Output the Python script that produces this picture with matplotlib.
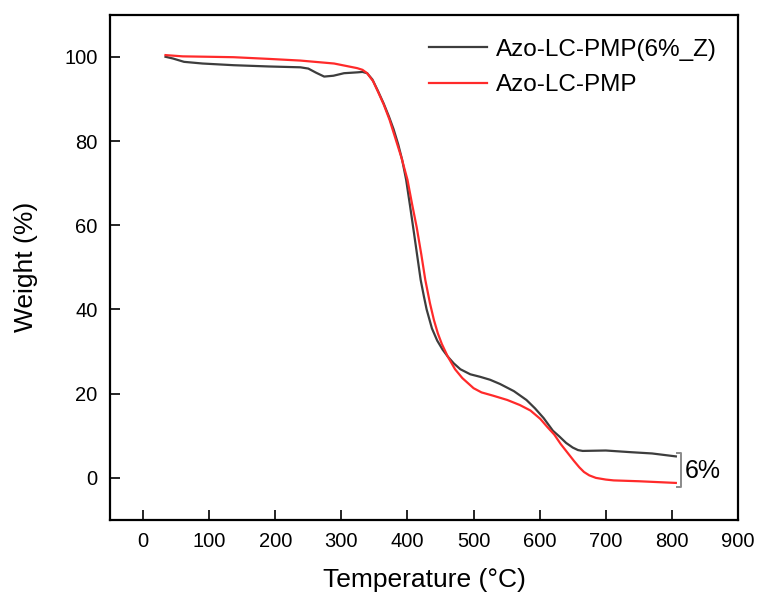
import matplotlib
matplotlib.use("Agg")
import matplotlib.pyplot as plt

plt.rcParams['font.family'] = ['Liberation Sans', 'DejaVu Sans']

# Azo-LC-PMP(6%_Z) (dark gray)
temp_z = [34, 45, 62, 90, 137, 190, 238, 250, 262, 274, 288, 304, 324, 332, 339,
          347, 355, 364, 372, 379, 386, 392, 398, 404, 410, 415, 420, 425, 429,
          437, 445, 453, 461, 470, 480, 495, 510, 525, 540, 561, 580, 593, 606,
          620, 630, 640, 650, 658, 665, 700, 738, 770, 806]
weight_z = [100.0, 99.6, 98.8, 98.4, 98.0, 97.7, 97.5, 97.2, 96.2, 95.3, 95.5, 96.1,
            96.3, 96.4, 96.1, 94.6, 92.0, 88.9, 85.8, 82.8, 79.2, 75.5, 70.8, 64.5,
            58.0, 52.5, 47.0, 43.0, 40.0, 35.5, 32.6, 30.5, 28.8, 27.2, 25.8, 24.6,
            24.0, 23.3, 22.3, 20.6, 18.5, 16.5, 14.2, 11.2, 9.8, 8.3, 7.2, 6.6,
            6.4, 6.5, 6.1, 5.8, 5.1]

# Azo-LC-PMP (red)
temp_p = [34, 60, 100, 137, 190, 238, 289, 324, 332, 339, 348, 356, 364, 373, 382,
          391, 400, 407, 414, 421, 427, 434, 440, 446, 452, 461, 472, 483, 500,
          512, 530, 551, 570, 586, 601, 612, 622, 632, 642, 652, 660, 667, 675,
          685, 700, 712, 750, 806]
weight_p = [100.4, 100.1, 100.0, 99.9, 99.5, 99.1, 98.4, 97.3, 96.9, 96.1, 94.2,
            91.5, 88.7, 85.0, 80.5, 76.0, 70.8, 65.0, 59.5, 53.0, 47.0, 41.5, 37.5,
            34.3, 31.8, 28.8, 25.8, 23.7, 21.3, 20.3, 19.5, 18.5, 17.3, 16.0, 14.0,
            12.0, 10.3, 8.0, 6.0, 4.0, 2.5, 1.4, 0.6, 0.0, -0.4, -0.6, -0.8, -1.2]

labels = ["Azo-LC-PMP(6%_Z)", "Azo-LC-PMP"]
xticks = [0, 100, 200, 300, 400, 500, 600, 700, 800, 900]
yticks = [0, 20, 40, 60, 80, 100]

fig = plt.figure(figsize=(7.58, 5.94), dpi=100)
ax = fig.add_axes([0.1451, 0.1246, 0.8285, 0.8507])

ax.plot(temp_z, weight_z, color='#3d3d3d', lw=1.6, label=labels[0])
ax.plot(temp_p, weight_p, color='#ff2a2a', lw=1.6, label=labels[1])

ax.set_xlim(-50, 900)
ax.set_ylim(-10, 110)
ax.set_xticks(xticks)
ax.set_yticks(yticks)
ax.tick_params(direction='in', length=7, width=1.2, labelsize=14.5, pad=9)
for s in ax.spines.values():
    s.set_linewidth(1.6)

ax.set_xlabel('Temperature (°C)', fontsize=19, labelpad=12)
ax.set_ylabel('Weight (%)', fontsize=19, labelpad=19)

# bracket annotation for the 6% residue difference
bx0, bx1 = 807, 814
btop, bbot = 5.9, -2.2
ax.plot([bx0, bx1, bx1, bx0], [btop, btop, bbot, bbot], color='#8a8a8a', lw=1.4)
ax.text(820, 1.6, '6%', fontsize=18, va='center', ha='left')

leg = ax.legend(loc='upper left', bbox_to_anchor=(0.508, 0.952), frameon=False,
                fontsize=17.5, handlelength=2.4, handletextpad=0.35,
                labelspacing=0.55, borderpad=0, borderaxespad=0)

fig.savefig('out.png', dpi=100)
